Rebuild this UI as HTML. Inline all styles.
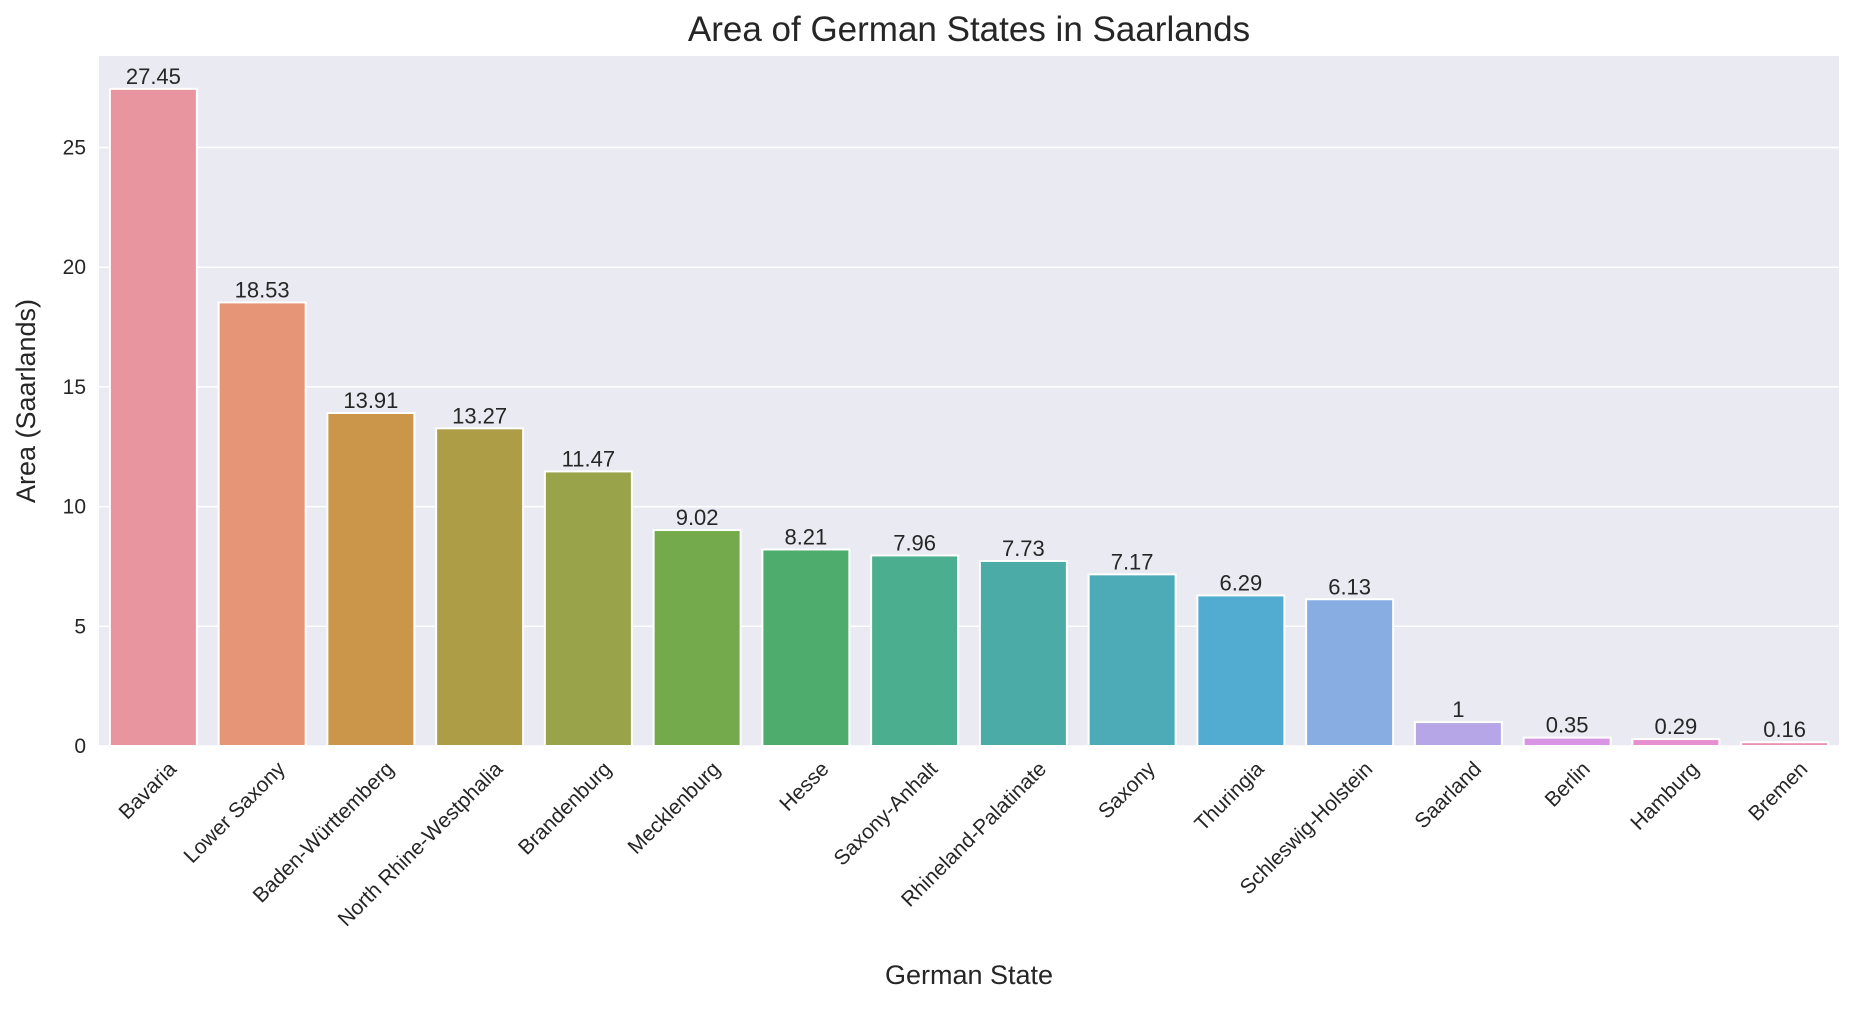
<!DOCTYPE html>
<html><head><meta charset="utf-8"><style>
body{margin:0;background:#fff;}
svg text{font-family:"Liberation Sans",Arial,sans-serif;fill:#262626;}
</style></head><body>
<svg id="chart" width="1855" height="1004" xmlns="http://www.w3.org/2000/svg">
<text x="969" y="41" font-size="35" text-anchor="middle">Area of German States in Saarlands</text>
<rect x="99" y="56" width="1740" height="690" fill="#eaeaf2"/>
<g id="grid"></g><g id="bars"></g><g id="labels"></g>
<text x="969" y="984" font-size="27" text-anchor="middle">German State</text>
<text transform="translate(35,401) rotate(-90)" font-size="27" text-anchor="middle">Area (Saarlands)</text>
</svg>
<script>
const states=["Bavaria","Lower Saxony","Baden-Württemberg","North Rhine-Westphalia","Brandenburg","Mecklenburg","Hesse","Saxony-Anhalt","Rhineland-Palatinate","Saxony","Thuringia","Schleswig-Holstein","Saarland","Berlin","Hamburg","Bremen"];
const areas=[27.45,18.53,13.91,13.27,11.47,9.02,8.21,7.96,7.73,7.17,6.29,6.13,1,0.35,0.29,0.16];
const valueLabels=["27.45","18.53","13.91","13.27","11.47","9.02","8.21","7.96","7.73","7.17","6.29","6.13","1","0.35","0.29","0.16"];
const yTicks=[0,5,10,15,20,25];
const colors=["#e9959f","#e69576","#cb9649","#ae9d47","#98a34a","#74aa4b","#4ead6d","#4aae8f","#4baba7","#4dabb8","#52abd1","#87ade3","#b6a6e8","#d795e3","#e78fd0","#e891b4"];
const L=99,R=1839,T=56,B=746,ymax=Math.max(...areas)*1.05;
const y=v=>B-v/ymax*(B-T);
const slot=(R-L)/states.length;
const xc=i=>L+slot*(i+0.5);
const NS="http://www.w3.org/2000/svg";
function mk(tag,attrs,parent,txt){const e=document.createElementNS(NS,tag);for(const k in attrs)e.setAttribute(k,attrs[k]);if(txt!==undefined)e.textContent=txt;parent.appendChild(e);return e;}
const grid=document.getElementById('grid'),bars=document.getElementById('bars'),labels=document.getElementById('labels');
yTicks.forEach(t=>{
 const l=mk('line',{x1:L,x2:R,y1:y(t),y2:y(t),stroke:'#fff','stroke-width':1.5},grid);
 
 
 const tx=mk('text',{x:L-13,y:y(t)+7,'font-size':21,'text-anchor':'end'},grid,String(t));
 
 
});
states.forEach((s,i)=>{
 const w=slot*0.8;
 const r=mk('rect',{x:xc(i)-w/2,y:y(areas[i]),width:w,height:B-y(areas[i]),fill:colors[i],stroke:'#fff','stroke-width':2},bars);
 
 
 const v=mk('text',{x:xc(i),y:y(areas[i])-5,'font-size':22,'text-anchor':'middle'},labels,valueLabels[i]);
 
 
 const t=mk('text',{transform:`translate(${xc(i)+14},${B+14}) rotate(-45)`,'font-size':21,'text-anchor':'end','dominant-baseline':'hanging'},labels,s);
 
 
});
</script>
</body></html>
